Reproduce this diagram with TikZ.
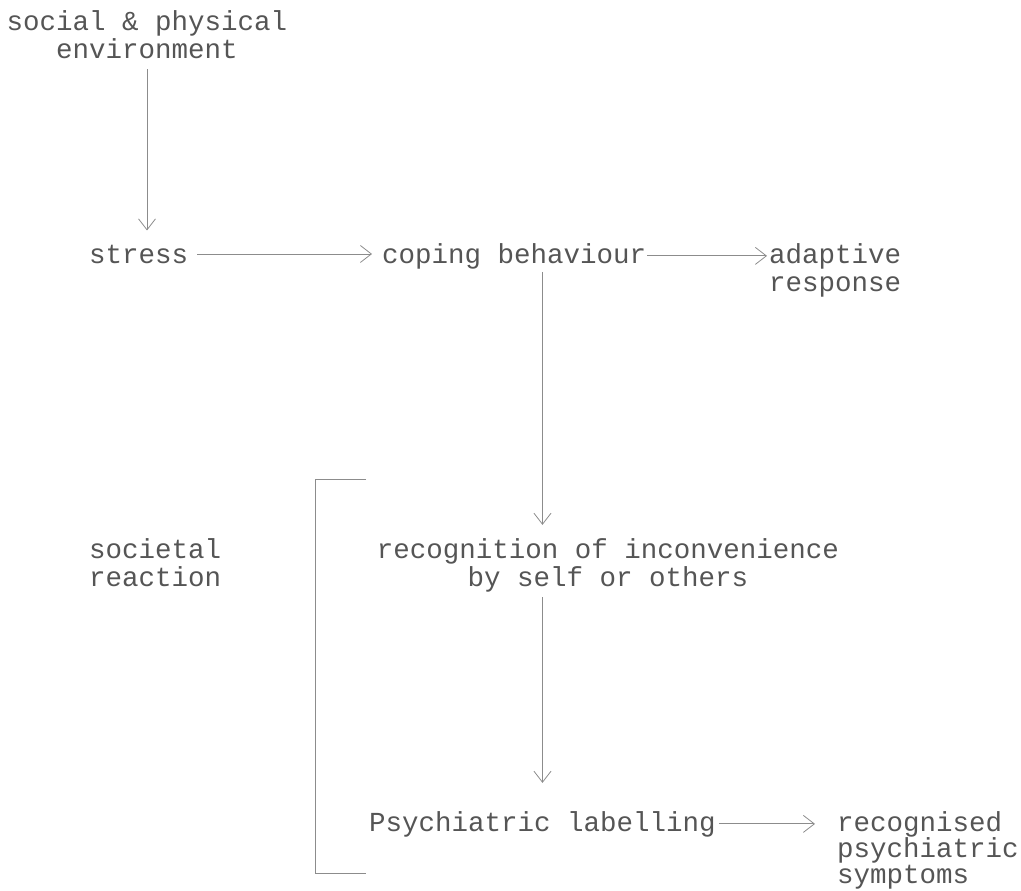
\documentclass[tikz,border=0pt]{standalone}
\usepackage{fontspec}
\usepackage{tikz}
\usetikzlibrary{arrows.meta}
\newfontfamily\typewriter{Liberation Mono}
\definecolor{inkgray}{HTML}{555555}
\definecolor{linegray}{HTML}{8C8C8C}

\begin{document}
\begin{tikzpicture}[x=1pt,y=-1pt,
    label/.style={inner sep=0pt, text=inkgray, font=\typewriter\fontsize{27.5}{28.5}\selectfont},
    flow/.style={draw=linegray, line width=0.8pt, -{Straight Barb[length=11pt,width=17pt]}}]
      \useasboundingbox (0,0) rectangle (1021,891);
      \draw
      (147,59)    node[label, anchor=base, align=center](env){social \& physical\\environment}
      (89,263)    node[label, anchor=base west](stress){stress}
      (382,263)   node[label, anchor=base west](coping){coping behaviour}
      (769,291.5) node[label, anchor=base west, align=left](adapt){adaptive\\response}
      (89,586.5)  node[label, anchor=base west, align=left](society){societal\\reaction}
      (608,586.5) node[label, anchor=base, align=center](recog){recognition of inconvenience\\by self or others}
      (369,831)   node[label, anchor=base west](psych){Psychiatric labelling}
      (837,883)   node[label, anchor=base west, align=left,
                       font=\typewriter\fontsize{27.5}{26}\selectfont](symp){recognised\\psychiatric\\symptoms};
      \draw[flow, shorten <=10pt, shorten >=14pt] (env.south) -- (env.south |- stress.north);
      \draw[flow, shorten <=9pt, shorten >=10pt]  (stress.east) -- (stress.east -| coping.west);
      \draw[flow, shorten <=1pt, shorten >=2pt]   (coping.east) -- (coping.east -| adapt.west);
      \draw[flow, shorten <=3pt, shorten >=13pt]  (coping.south -| psych) -- (recog.north -| psych);
      \draw[flow, shorten <=5pt, shorten >=28pt]  (recog.south -| psych) -- (psych);
      \draw[flow, shorten <=3pt, shorten >=22pt]  (psych.east) -- (psych.east -| symp.west);
      % bracket round the societal reaction
      \draw[linegray, line width=0.8pt] (366,479) -- (315,479) -- (315,873) -- (366,873);
    \end{tikzpicture}
\end{document}
